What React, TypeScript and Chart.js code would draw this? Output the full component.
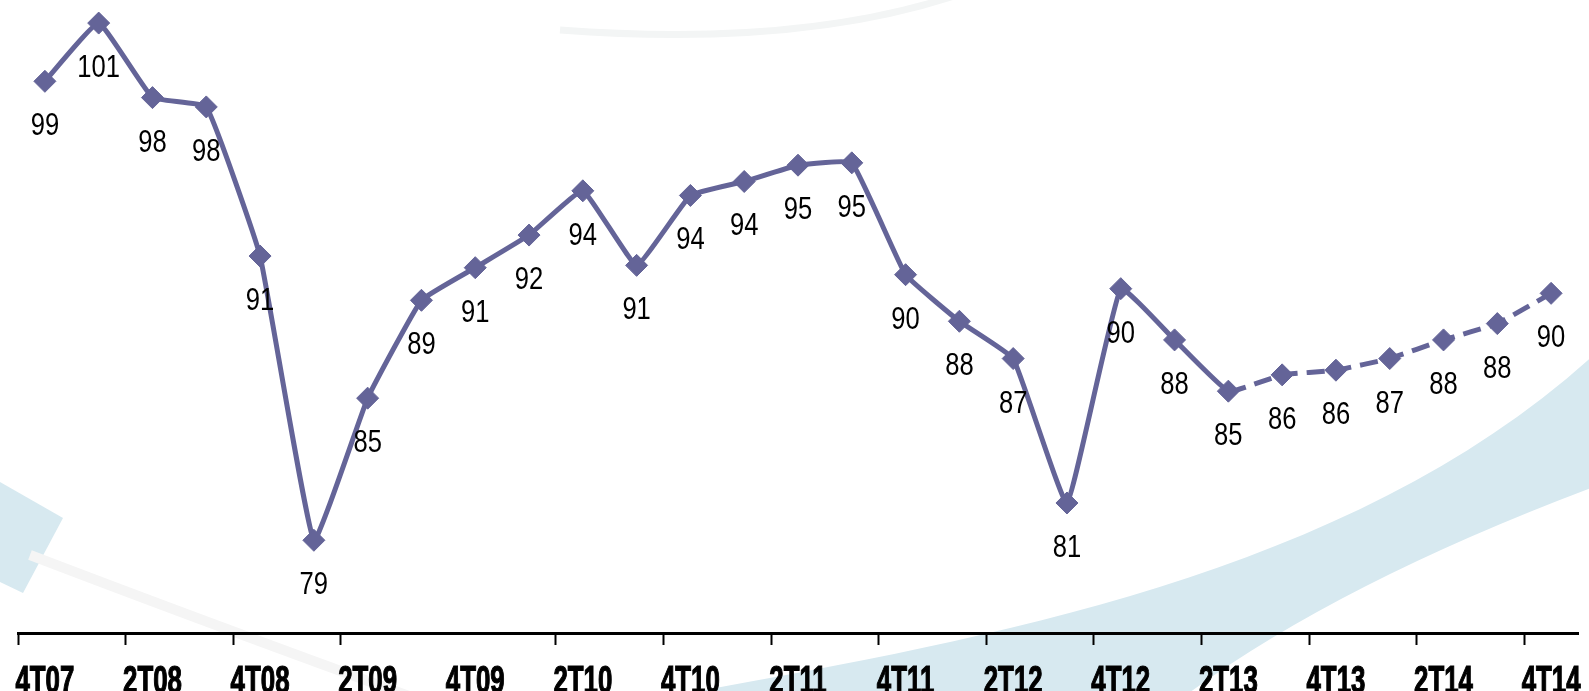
import React, { useEffect, useRef } from "react";
import { Chart, registerables } from "chart.js";

Chart.register(...registerables);

const quarters: string[] = [
  "4T07", "1T08", "2T08", "3T08", "4T08", "1T09", "2T09", "3T09", "4T09", "1T10",
  "2T10", "3T10", "4T10", "1T11", "2T11", "3T11", "4T11", "1T12", "2T12", "3T12",
  "4T12", "1T13", "2T13", "3T13", "4T13", "1T14", "2T14", "3T14", "4T14",
];

// index values (labels show the rounded value)
const indexValues: number[] = [
  98.7, 101.2, 98.0, 97.6, 91.2, 79.0, 85.1, 89.3, 90.7, 92.1,
  94.0, 90.8, 93.8, 94.4, 95.1, 95.2, 90.4, 88.4, 86.8, 80.6,
  89.8, 87.6, 85.4, 86.1, 86.3, 86.8, 87.6, 88.3, 89.6,
];

// first index of the forecast (dashed) part
const forecastStart = 22;
// labelled ticks on the x axis
const tickLabelEvery = 2;
const hiddenTickMarks: number[] = [8];

const LINE_COLOR = "#646498";
const SANS = '"Liberation Sans", Arial, Helvetica, sans-serif';

const backgroundPlugin = {
  id: "bgDecor",
  beforeDraw(chart: any) {
    const ctx = chart.ctx as CanvasRenderingContext2D;
    ctx.save();
    ctx.fillStyle = "#ffffff";
    ctx.fillRect(0, 0, chart.width, chart.height);
    // big light-blue swoosh
    ctx.fillStyle = "#d7e9f0";
    ctx.beginPath();
    ctx.moveTo(600, 710);
    ctx.bezierCurveTo(900, 650, 1350, 600, 1620, 330);
    ctx.lineTo(1640, 470);
    ctx.quadraticCurveTo(1299, 592, 1130, 740);
    ctx.lineTo(600, 740);
    ctx.closePath();
    ctx.fill();
    // left light-blue piece
    ctx.beginPath();
    ctx.moveTo(0, 482);
    ctx.lineTo(63, 518);
    ctx.lineTo(23, 593);
    ctx.lineTo(0, 582);
    ctx.closePath();
    ctx.fill();
    // faint grey arcs
    ctx.strokeStyle = "#f3f5f5";
    ctx.lineWidth = 7;
    ctx.beginPath();
    ctx.moveTo(560, 30);
    ctx.quadraticCurveTo(800, 48, 960, -6);
    ctx.stroke();
    ctx.strokeStyle = "#f5f5f5";
    ctx.lineWidth = 10;
    ctx.beginPath();
    ctx.moveTo(30, 555);
    ctx.quadraticCurveTo(200, 620, 420, 700);
    ctx.stroke();
    ctx.restore();
  },
};

const valueLabelPlugin = {
  id: "valueLabels",
  afterDatasetsDraw(chart: any) {
    const ctx = chart.ctx as CanvasRenderingContext2D;
    const meta = chart.getDatasetMeta(0);
    const data = chart.data.datasets[0].data as number[];
    ctx.save();
    ctx.fillStyle = "#000000";
    ctx.font = `32px ${SANS}`;
    ctx.textAlign = "center";
    ctx.textBaseline = "alphabetic";
    meta.data.forEach((pt: any, i: number) => {
      ctx.save();
      ctx.translate(pt.x, pt.y + 54);
      ctx.scale(0.8, 1);
      ctx.fillText(String(Math.round(data[i])), 0, 0);
      ctx.restore();
    });
    ctx.restore();
  },
};

const axisLabelPlugin = {
  id: "axisLabels",
  afterDraw(chart: any) {
    const ctx = chart.ctx as CanvasRenderingContext2D;
    const xs = chart.scales.x;
    ctx.save();
    ctx.fillStyle = "#000000";
    ctx.strokeStyle = "#000000";
    ctx.lineWidth = 1.2;
    ctx.font = `bold 38px ${SANS}`;
    ctx.textAlign = "center";
    ctx.textBaseline = "alphabetic";
    quarters.forEach((q, i) => {
      if (i % tickLabelEvery !== 0) return;
      ctx.save();
      ctx.translate(xs.getPixelForTick(i), xs.top + 60);
      ctx.scale(0.68, 1);
      ctx.fillText(q, 0, 0);
      ctx.strokeText(q, 0, 0);
      ctx.restore();
    });
    ctx.restore();
  },
};

export default function App() {
  const canvasRef = useRef<HTMLCanvasElement | null>(null);

  useEffect(() => {
    document.body.style.margin = "0";
    document.body.style.overflow = "hidden";
    const canvas = canvasRef.current;
    if (!canvas) return;
    const chart = new Chart(canvas, {
      type: "line",
      data: {
        labels: quarters,
        datasets: [
          {
            data: indexValues,
            borderColor: LINE_COLOR,
            backgroundColor: LINE_COLOR,
            pointBackgroundColor: LINE_COLOR,
            pointBorderColor: LINE_COLOR,
            pointStyle: "rectRot",
            pointRadius: 11,
            pointBorderWidth: 1,
            borderWidth: 5,
            tension: 0.1,
            fill: false,
            clip: false as any,
            segment: {
              borderDash: (c: any) => (c.p0DataIndex >= forecastStart ? [18, 9] : undefined),
            },
          },
        ],
      },
      options: {
        responsive: false,
        animation: false,
        layout: { autoPadding: false, padding: { left: 18, right: 11, top: 0, bottom: 0 } },
        plugins: {
          legend: { display: false },
          tooltip: { enabled: false },
          title: { display: false },
        },
        scales: {
          y: {
            display: false,
            min: 75.02,
            max: 102.19,
          },
          x: {
            offset: true,
            afterFit: (s: any) => {
              s.height = 58;
              s.paddingLeft = 0;
              s.paddingRight = 0;
            },
            border: { display: true, color: "#000000", width: 3 },
            grid: {
              offset: true,
              drawOnChartArea: false,
              drawTicks: true,
              tickLength: 12,
              tickWidth: 2,
              tickColor: (c: any) =>
                c.index % tickLabelEvery === 0 && !hiddenTickMarks.includes(c.index) && c.index < quarters.length
                  ? "#000000"
                  : "rgba(0,0,0,0)",
            },
            ticks: {
              autoSkip: false,
              maxRotation: 0,
              minRotation: 0,
              padding: 0,
              color: "rgba(0,0,0,0)",
              font: { family: SANS, size: 12 },
            },
          },
        },
      },
      plugins: [backgroundPlugin, valueLabelPlugin, axisLabelPlugin],
    });
    return () => chart.destroy();
  }, []);

  return (
    <div style={{ width: 1589, height: 691, overflow: "hidden" }}>
      <canvas ref={canvasRef} width={1589} height={691} />
    </div>
  );
}
